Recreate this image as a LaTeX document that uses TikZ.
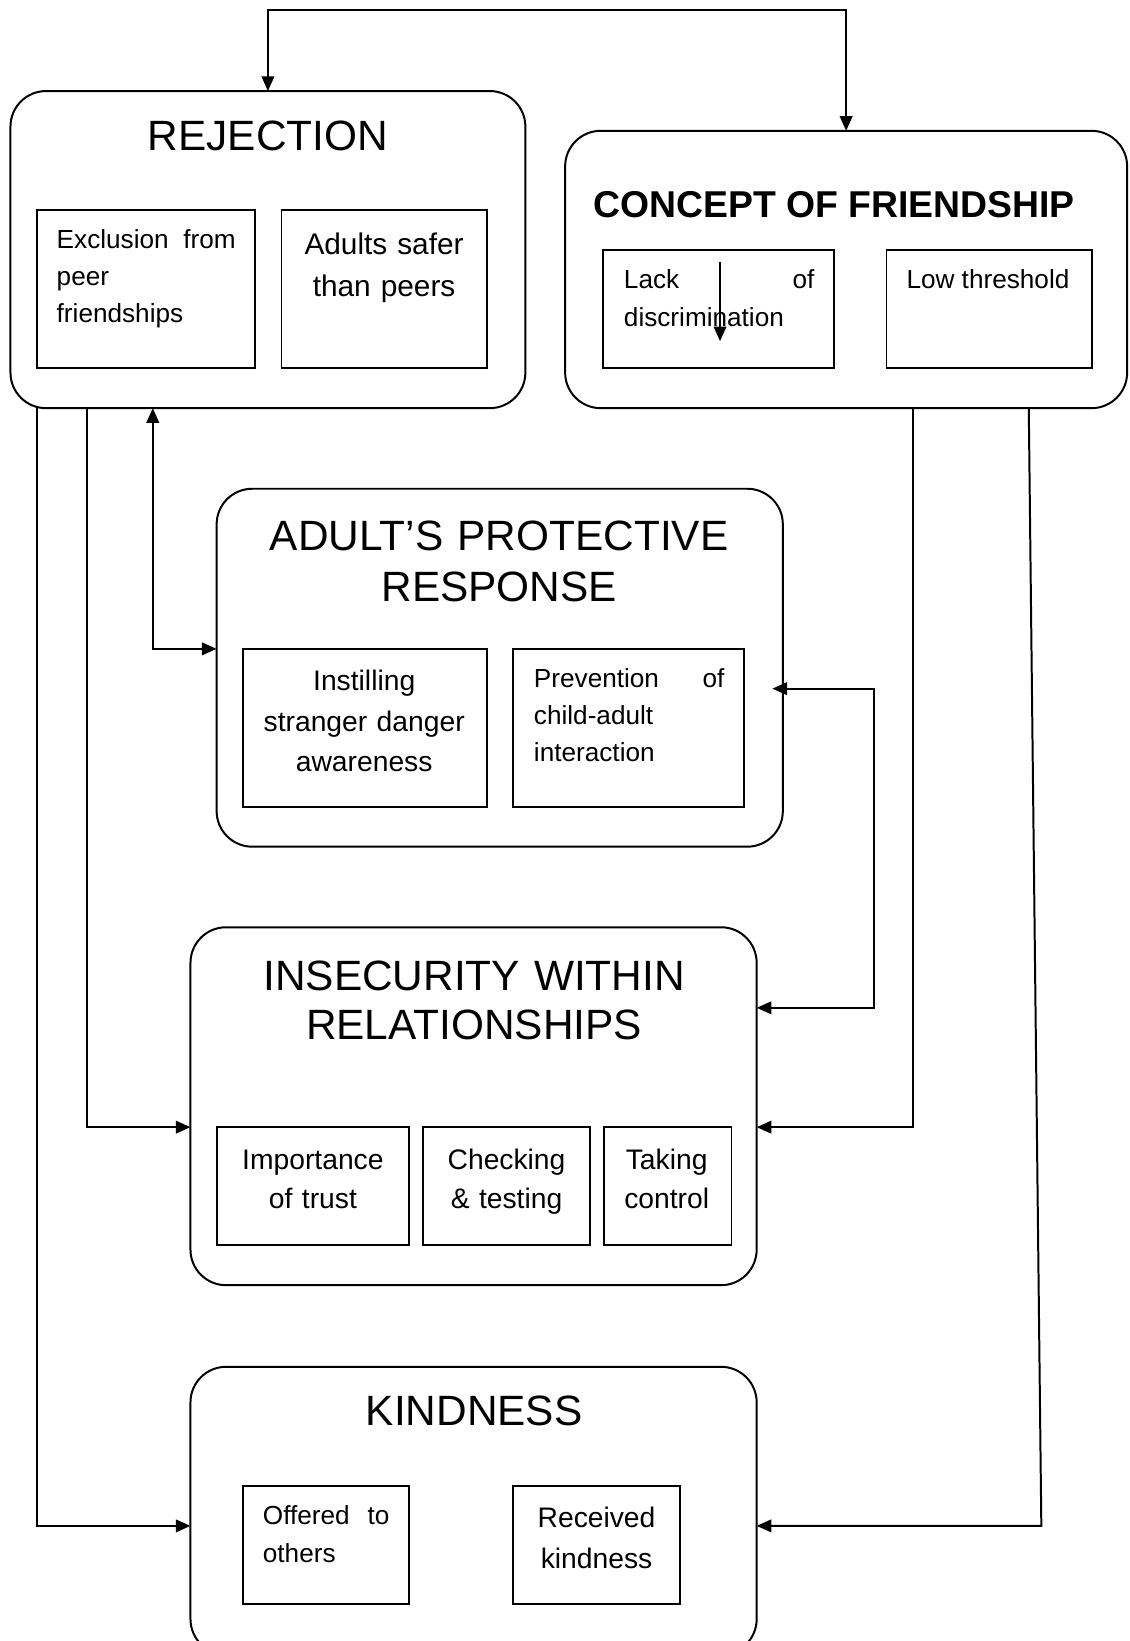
\documentclass[tikz,border=0pt]{standalone}
\usepackage{fontspec}
\setmainfont{Liberation Sans}
\usetikzlibrary{arrows.meta,calc}
\begin{document}
\begin{tikzpicture}[x=1pt,y=-1pt,
  >={Triangle[length=14pt,width=12pt]},
  obox/.style={draw, line width=1.9pt, rounded corners=34pt, inner sep=0pt, outer sep=0pt, anchor=north west},
  ibox/.style={draw, line width=1.8pt, inner sep=0pt, outer sep=0pt, anchor=north west},
  conn/.style={line width=1.9pt},
  ttl/.style={font=\fontsize{40.5}{46}\selectfont, inner sep=0pt, anchor=base},
  ttltwo/.style={inner sep=0pt, anchor=base, text width=560pt, align=center},
  ttlbold/.style={font=\bfseries\fontsize{35.7}{40}\selectfont, inner sep=0pt, anchor=base},
  smt/.style={font=\fontsize{25}{35.5}\selectfont, inner sep=0pt, anchor=base west, align=left},
  mdt/.style={font=\fontsize{27}{39}\selectfont, inner sep=0pt, anchor=base, text width=240pt, align=center}
]
\useasboundingbox (0,0) rectangle (1079,1568);

% outer boxes
\node[obox, minimum width=492pt, minimum height=303pt] (rej) at (10,87) {};
\node[obox, minimum width=537pt, minimum height=265pt] (con) at (540,125) {};
\node[obox, minimum width=541pt, minimum height=342pt] (adp) at (207,467) {};
\node[obox, minimum width=541pt, minimum height=342pt] (ins) at (182,886) {};
\node[obox, minimum width=541pt, minimum height=275pt] (kin) at (182,1306) {};

% titles
\node[ttl] (trej) at (256,144) {REJECTION};
\node[ttlbold] (tcon) at (797,207.5) {CONCEPT OF FRIENDSHIP};
\node[ttltwo, font=\fontsize{40.5}{49}\selectfont] (tadp) at (477,526) {ADULT’S PROTECTIVE\\RESPONSE};
\node[ttltwo, font=\fontsize{40.5}{47}\selectfont] (tins) at (453,946) {INSECURITY WITHIN\\RELATIONSHIPS};
\node[ttl] (tkin) at (453,1362) {KINDNESS};

% inner boxes
\node[ibox, minimum width=209pt, minimum height=151pt] (exc) at (35,201) {};
\node[ibox, minimum width=196pt, minimum height=151pt] (adl) at (269,201) {};
\node[ibox, minimum width=221pt, minimum height=113pt] (lac) at (576,239) {};
\node[ibox, minimum width=196pt, minimum height=113pt] (low) at (847,239) {};
\node[ibox, minimum width=233pt, minimum height=151pt] (ist) at (232,620) {};
\node[ibox, minimum width=221pt, minimum height=151pt] (prv) at (490,620) {};
\node[ibox, minimum width=184pt, minimum height=113pt] (imp) at (207,1077) {};
\node[ibox, minimum width=160pt, minimum height=113pt] (chk) at (404,1077) {};
\node[ibox, minimum width=122pt, minimum height=113pt] (tak) at (577,1077) {};
\node[ibox, minimum width=159pt, minimum height=113pt] (off) at (232,1420) {};
\node[ibox, minimum width=160pt, minimum height=113pt] (rec) at (490,1420) {};

% inner texts
\node[smt, text width=171pt] (texc) at (54,237) {Exclusion\hfill from\\peer\\friendships};
\node[mdt, font=\fontsize{28.5}{40}\selectfont] (tadl) at (367,243) {Adults safer\\than peers};
\node[smt, text width=182pt] (tlac) at (596,276) {Lack\hfill of\\discrimination};
\node[smt, anchor=base] (tlow) at (944,276) {Low threshold};
\node[mdt, font=\fontsize{27}{38.5}\selectfont] (tist) at (348,660) {Instilling\\stranger danger\\awareness};
\node[smt, text width=182pt] (tprv) at (510,657) {Prevention\hfill of\\child-adult\\interaction};
\node[mdt, font=\fontsize{27}{38}\selectfont] (timp) at (299,1117) {Importance\\of trust};
\node[mdt, font=\fontsize{27}{38}\selectfont] (tchk) at (484,1117) {Checking\\\& testing};
\node[mdt, font=\fontsize{27}{38}\selectfont] (ttak) at (637,1117) {Taking\\control};
\node[smt, text width=121pt, font=\fontsize{25}{36}\selectfont] (toff) at (251,1457) {Offered\hfill to\\others};
\node[mdt] (trec) at (570,1460) {Received\\kindness};

% connectors
\draw[conn,<->] (rej.north) -- ++(0,-77) -| (con.north);
\draw[conn,->] ($(rej.south west)+(25,0)$) |- ($(kin.north west)+(0,152)$);
\draw[conn,->] ($(rej.south west)+(73,0)$) |- ($(ins.north west)+(0,191)$);
\draw[conn,<->] ($(rej.south west)+(136,0)$) |- ($(adp.north west)+(0,153)$);
\draw[conn,<->] ($(adp.north east)+(-10,191)$) -- ++(97,0) |- ($(ins.north east)+(0,77)$);
\draw[conn,->] ($(con.south west)+(332,0)$) |- ($(ins.north east)+(0,191)$);
\draw[conn,->] ($(con.south west)+(443,0)$) -- ($(kin.north east)+(272,152)$) -- ($(kin.north east)+(0,152)$);
\draw[conn,->] ($(lac.north west)+(112,11)$) -- ++(0,76);
\end{tikzpicture}
\end{document}
